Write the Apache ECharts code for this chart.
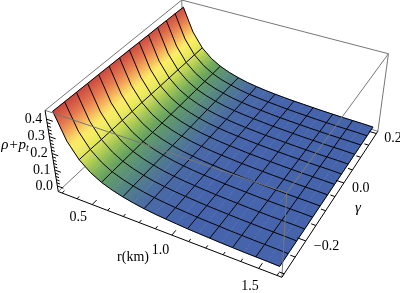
<!DOCTYPE html>
<html><head><meta charset="utf-8">
<style>html,body{margin:0;padding:0;background:#fff}#c{width:400px;height:293px}</style>
<script src="https://cdn.jsdelivr.net/npm/echarts@6/dist/echarts.min.js"></script>
</head><body><div id="c"></div>
<script>
// ---- data ----
const rValues = [0.3,0.365,0.43,0.495,0.56,0.625,0.69,0.755,0.82,0.885,0.95,1.015,1.08,1.145,1.21,1.275,1.34,1.405,1.47,1.535,1.6];
const gammaValues = [-0.3,-0.262,-0.223,-0.185,-0.146,-0.108,-0.069,-0.031,0.008,0.046,0.085,0.123,0.162,0.2];
const zValues = [
[.437,.436,.435,.434,.433,.432,.431,.430,.428,.427,.426,.424,.423,.421],
[.287,.287,.286,.286,.285,.285,.284,.283,.282,.282,.281,.281,.280,.279],
[.199,.199,.198,.198,.198,.197,.197,.196,.195,.195,.195,.194,.194,.193],
[.144,.144,.143,.143,.143,.143,.142,.142,.142,.141,.141,.141,.141,.140],
[.107,.107,.107,.107,.107,.106,.106,.106,.106,.106,.105,.105,.105,.105],
[.083,.083,.083,.082,.082,.082,.082,.082,.082,.082,.082,.081,.081,.081],
[.065,.065,.065,.065,.064,.064,.064,.064,.064,.064,.064,.064,.064,.063],
[.051,.051,.050,.050,.050,.050,.050,.050,.050,.050,.050,.050,.050,.049],
[.040,.040,.040,.040,.040,.040,.040,.040,.040,.040,.040,.040,.039,.039],
[.032,.032,.032,.032,.032,.032,.032,.032,.032,.032,.032,.032,.032,.031],
[.026,.026,.026,.026,.026,.026,.026,.026,.026,.026,.026,.026,.026,.025],
[.021,.021,.021,.021,.021,.021,.021,.021,.021,.021,.021,.021,.021,.020],
[.016,.016,.016,.016,.016,.016,.016,.016,.016,.016,.016,.016,.016,.016],
[.013,.013,.013,.013,.013,.013,.013,.013,.013,.013,.013,.013,.013,.013],
[.010,.010,.010,.010,.010,.010,.010,.010,.010,.010,.010,.010,.010,.010],
[.007,.007,.007,.007,.007,.007,.007,.007,.007,.007,.007,.007,.007,.007],
[.005,.005,.005,.005,.005,.005,.005,.005,.005,.005,.005,.005,.005,.005],
[.003,.003,.003,.003,.003,.003,.003,.003,.003,.003,.003,.003,.003,.003],
[.002,.002,.002,.002,.002,.002,.002,.002,.002,.002,.002,.002,.002,.002],
[.001,.001,.001,.001,.001,.001,.001,.001,.001,.001,.001,.001,.001,.001],
[-.001,-.001,-.001,-.001,-.001,-.001,-.001,-.001,-.001,-.001,-.001,-.001,-.001,-.001]
];
const rTicks = [0.3,0.4,0.5,0.6,0.7,0.8,0.9,1.0,1.1,1.2,1.3,1.4,1.5,1.6];
const rLabels = ['0.5','1.0','1.5'];
const gammaTicks = [-0.3,-0.25,-0.2,-0.15,-0.1,-0.05,0,0.05,0.1,0.15,0.2];
const gammaLabels = ['\u22120.2','0.0','0.2'];
const zTicks = [0,0.02,0.04,0.06,0.08,0.1,0.12,0.14,0.16,0.18,0.2,0.22,0.24,0.26,0.28,0.3,0.32,0.34,0.36,0.38,0.4];
const zLabels = ['0.0','0.1','0.2','0.3','0.4'];

// ---- scene: box ranges, view calibration, colours ----
const rRange=[0.274,1.626], gRange=[-0.31,0.21], zRange=[-0.036,0.449];
const calib=[[0,0,0,58,191],[1,0,0,282,277],[1,1,0,378,132],[0,0,1,45,111],[1,0,1,287,193],[0,1,1,182,0],[1,1,1,388,53]];
function solveCamera(){
  const n=11,A=Array.from({length:n},()=>new Array(n+1).fill(0));
  const add=(row,b)=>{for(let i=0;i<n;i++){for(let j=0;j<n;j++)A[i][j]+=row[i]*row[j];A[i][n]+=row[i]*b;}};
  calib.forEach(([X,Y,Z,x,y])=>{
    add([X,Y,Z,1,0,0,0,0,-x*X,-x*Y,-x*Z],x);
    add([0,0,0,0,X,Y,Z,1,-y*X,-y*Y,-y*Z],y);
  });
  for(let i=0;i<n;i++){
    let m=i;for(let k=i+1;k<n;k++)if(Math.abs(A[k][i])>Math.abs(A[m][i]))m=k;
    [A[i],A[m]]=[A[m],A[i]];
    for(let k=0;k<n;k++){if(k===i)continue;const f=A[k][i]/A[i][i];for(let j=i;j<=n;j++)A[k][j]-=f*A[i][j];}
  }
  return A.map((r,i)=>r[n]/r[i]);
}
const P=solveCamera();
function projN(u,v,w){
  const d=P[8]*u+P[9]*v+P[10]*w+1;
  return [(P[0]*u+P[1]*v+P[2]*w+P[3])/d,(P[4]*u+P[5]*v+P[6]*w+P[7])/d];
}
const nr=r=>(r-rRange[0])/(rRange[1]-rRange[0]);
const ng=g=>(g-gRange[0])/(gRange[1]-gRange[0]);
const nz=z=>(z-zRange[0])/(zRange[1]-zRange[0]);
const proj=(r,g,z)=>projN(nr(r),ng(g),nz(z));

const ramp=[[-1,[70,100,172]],[.019,[70,100,172]],[.041,[74,106,165]],[.073,[85,135,130]],[.117,[105,165,95]],[.160,[165,200,85]],[.204,[228,232,92]],[.259,[252,238,104]],[.313,[245,175,92]],[.368,[226,115,78]],[.444,[198,66,60]]];
function colorOf(z){
  for(let i=1;i<ramp.length;i++){
    if(z<=ramp[i][0]){
      const t=(z-ramp[i-1][0])/(ramp[i][0]-ramp[i-1][0]),a=ramp[i-1][1],b=ramp[i][1];
      return 'rgb('+a.map((c,k)=>Math.round(c+(b[k]-c)*t)).join(',')+')';
    }
  }
  return 'rgb(198,66,60)';
}

// ---- marks ----
const cells=[];
for(let j=gammaValues.length-2;j>=0;j--)for(let i=0;i<rValues.length-1;i++)cells.push([i,j]);

function surfaceItem(params,api){
  const i=api.value(0),j=api.value(1);
  const corner=(a,b)=>api.coord(proj(rValues[a],gammaValues[b],zValues[a][b]));
  const p=[corner(i,j),corner(i+1,j),corner(i+1,j+1),corner(i,j+1)];
  const A=[(p[0][0]+p[3][0])/2,(p[0][1]+p[3][1])/2],B=[(p[1][0]+p[2][0])/2,(p[1][1]+p[2][1])/2];
  let dx=p[3][0]-p[0][0],dy=p[3][1]-p[0][1];const L=Math.hypot(dx,dy)||1;dx/=L;dy/=L;
  const bx=B[0]-A[0],by=B[1]-A[1],dot=bx*dx+by*dy;
  const gx=bx-dot*dx,gy=by-dot*dy;
  const z0=(zValues[i][j]+zValues[i][j+1])/2,z1=(zValues[i+1][j]+zValues[i+1][j+1])/2;
  const stops=[0,.25,.5,.75,1].map(t=>({offset:t,color:colorOf(z0+(z1-z0)*t)}));
  const g=new echarts.graphic.LinearGradient(A[0],A[1],A[0]+gx,A[1]+gy,stops,true);
  return {type:'polygon',shape:{points:p},style:{fill:g,stroke:g,lineWidth:.6}};
}
function meshGroup(api){
  const ch=[],line=pts=>({type:'polyline',shape:{points:pts.map(q=>api.coord(q))},style:{fill:null,stroke:'#000',lineWidth:1}});
  // mesh lines along gamma at every second r row, along r at every gamma column
  rValues.forEach((r,i)=>{ if(i%2===0) ch.push(line(gammaValues.map((g,j)=>proj(r,g,zValues[i][j])))); });
  gammaValues.forEach((g,j)=>{ ch.push(line(rValues.map((r,i)=>proj(r,g,zValues[i][j])))); });
  return ch;
}
const seg=(api,a,b,stroke,lw)=>{const p=api.coord(projN(a[0],a[1],a[2])),q=api.coord(projN(b[0],b[1],b[2]));
  return {type:'line',shape:{x1:p[0],y1:p[1],x2:q[0],y2:q[1]},style:{stroke:stroke,lineWidth:lw}};};

const backEdges=[[[0,0,1],[0,1,1]],[[0,1,1],[1,1,1]],[[1,1,1],[1,1,0]],[[0,1,1],[0,1,0]],[[0,0,0],[0,1,0]],[[0,1,0],[1,1,0]]];
const frontEdges=[[[0,0,1],[1,0,1]],[[1,0,1],[1,1,1]],[[1,0,1],[1,0,0]]];
const axisEdges=[[[0,0,0],[1,0,0]],[[1,0,0],[1,1,0]],[[0,0,0],[0,0,1]]];

function tickGroup(api){
  const ch=[];
  rTicks.forEach(t=>{const M=rLabels.includes(t.toFixed(1));const u=nr(t);ch.push(seg(api,[u,0,0],[u,M?.03:.016,0],'#000',1));});
  gammaTicks.forEach(t=>{const M=Math.abs(t*10%2)<1e-6||Math.abs(Math.abs(t*10%2)-2)<1e-6;const v=ng(t);ch.push(seg(api,[1,v,0],[M?.965:.98,v,0],'#000',1));});
  zTicks.forEach(t=>{const M=Math.abs(t*10-Math.round(t*10))<1e-6;const w=nz(t);ch.push(seg(api,[0,0,w],[M?.03:.016,0,w],'#000',1));});
  return ch;
}
const FONT='"Liberation Serif","Times New Roman",serif';
function txt(api,x,y,text,align,extra){
  const p=api.coord([x,y]);
  return {type:'text',x:p[0],y:p[1],style:Object.assign({text:text,fill:'#000',font:'14px '+FONT,align:align,verticalAlign:'middle'},extra||{})};
}
function labelGroup(api){
  const ch=[];
  rLabels.forEach(s=>{const u=nr(+s),q=projN(u,0,0);ch.push(txt(api,q[0]-15+7*u,q[1]+12+6*u,s,'center'));});
  gammaLabels.forEach(s=>{const q=projN(1,ng(+s.replace('\u2212','-')),0);ch.push(txt(api,q[0]+8,q[1]+5,s,'left'));});
  zLabels.forEach(s=>{const q=projN(0,0,nz(+s));ch.push(txt(api,q[0]-13,q[1],s,'center'));});
  ch.push(txt(api,133,257,'r(km)','center'));
  ch.push(txt(api,358,208,'\u03b3','center',{font:'italic 15px '+FONT}));
  ch.push(txt(api,15,145,'{a|\u03c1+p}{b|t}','center',{rich:{a:{font:'italic 15px '+FONT,fill:'#000'},b:{font:'italic 10px '+FONT,fill:'#000',verticalAlign:'bottom',padding:[6,0,0,0]}}}));
  return ch;
}
const groupSeries=(fn,z)=>({type:'custom',coordinateSystem:'cartesian2d',data:[[0,0]],silent:true,clip:false,z:z,animation:false,
  renderItem:(p,api)=>({type:'group',children:fn(api)})});

const chart=echarts.init(document.getElementById('c'),null,{renderer:'canvas'});
chart.setOption({
  animation:false,
  grid:{left:0,right:0,top:0,bottom:0},
  xAxis:{type:'value',min:0,max:400,show:false},
  yAxis:{type:'value',min:0,max:293,inverse:true,show:false},
  series:[
    groupSeries(api=>backEdges.map(e=>seg(api,e[0],e[1],'#777',1)),1),
    {type:'custom',coordinateSystem:'cartesian2d',data:cells,renderItem:surfaceItem,silent:true,clip:false,z:2,animation:false},
    groupSeries(meshGroup,3),
    groupSeries(api=>frontEdges.map(e=>seg(api,e[0],e[1],'#777',1)),4),
    groupSeries(api=>axisEdges.map(e=>seg(api,e[0],e[1],'#000',1)).concat(tickGroup(api)),5),
    groupSeries(labelGroup,6)
  ]
});
</script></body></html>
